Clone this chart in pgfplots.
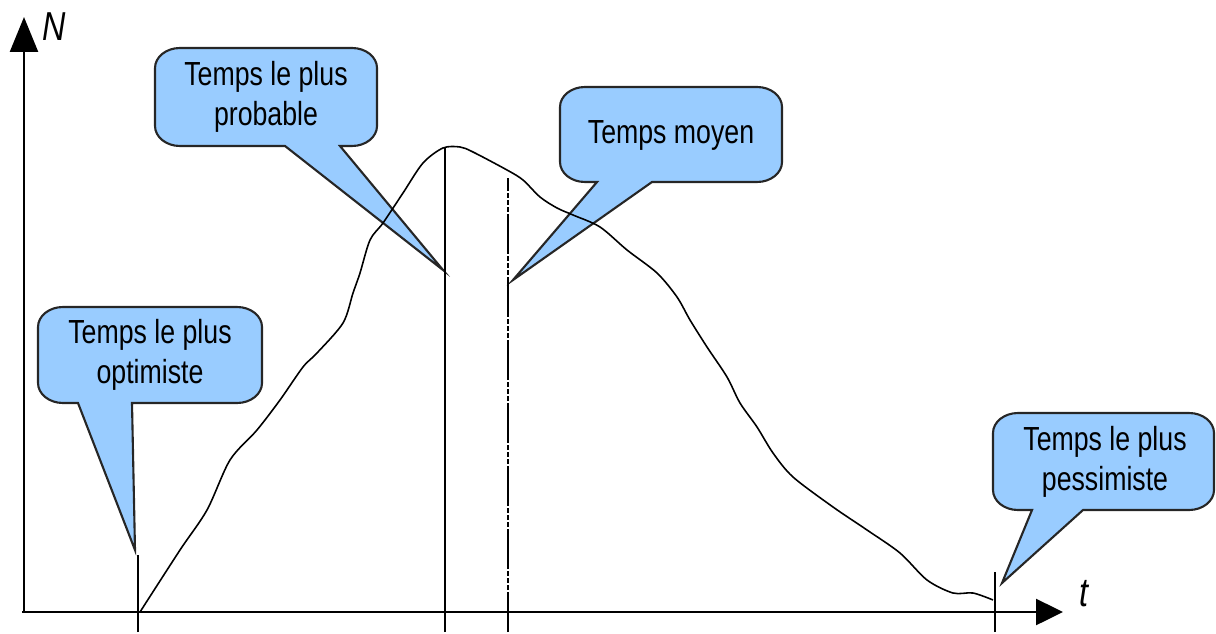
\documentclass[border=0pt]{standalone}
\usepackage{fontspec}
\newfontfamily\cf{Liberation Sans}[FakeStretch=0.8]
\usepackage{pgfplots}
\pgfplotsset{compat=1.18}
\usetikzlibrary{arrows.meta}
\definecolor{cfill}{RGB}{153,204,255}
\newcommand{\callout}[8]{%
 \draw[fill=cfill, draw=black!85, line width=0.6pt]
 (#6,#3) -- ({#2-25},#3) arc[start angle=-90,end angle=0,x radius=0.25cm,y radius=0.2cm]
 -- (#2,{#4-20}) arc[start angle=0,end angle=90,x radius=0.25cm,y radius=0.2cm]
 -- ({#1+25},#4) arc[start angle=90,end angle=180,x radius=0.25cm,y radius=0.2cm]
 -- (#1,{#3+20}) arc[start angle=180,end angle=270,x radius=0.25cm,y radius=0.2cm]
 -- (#5,#3) -- (#7,#8) -- cycle;}
\begin{document}
\begin{tikzpicture}
\begin{axis}[
  width=12.16cm, height=6.32cm, scale only axis,
  xmin=0, xmax=1216, ymin=0, ymax=632,
  axis lines=none, ticks=none, clip=false]
\path (0,0) rectangle (1216,632);
% callouts
\callout{155}{377}{486}{584}{285}{340}{443}{362}
\callout{560}{782}{450}{545}{597}{652}{513}{352}
\callout{38}{262}{229}{325}{78}{132}{135}{82}
\callout{993}{1214}{122}{219}{1032}{1083}{1002}{49}
\node[align=center, font=\cf\fontsize{9.5}{11.4}\selectfont] at (266,535) {Temps le plus\\probable};
\node[align=center, font=\cf\fontsize{9.5}{11.4}\selectfont] at (671,497) {Temps moyen};
\node[align=center, font=\cf\fontsize{9.5}{11.4}\selectfont] at (150,277) {Temps le plus\\optimiste};
\node[align=center, font=\cf\fontsize{9.5}{11.4}\selectfont] at (1105,170) {Temps le plus\\pessimiste};
% axes
\draw[line width=0.7pt, -{Triangle[length=0.35cm,width=0.28cm]}] (24,19) -- (24,615);
\draw[line width=0.7pt, -{Triangle[length=0.27cm,width=0.26cm]}] (22,20) -- (1063,20);
\node[font=\cf\itshape\fontsize{11.5}{13}\selectfont] at (54,605) {N};
\node[font=\cf\itshape\fontsize{11.5}{13}\selectfont] at (1084,38) {t};
% curve
\addplot[black, line width=0.45pt, smooth, tension=0.5] coordinates {
(140,20)(180,82)(207,122)(230,172)(257,202)(280,232)(303,265)(317,279)(343,309)
(353,339)(360,359)(370,392)(383,409)(403,439)(423,469)(443,484)(460,485)(473,480)
(507,462)(523,452)(540,435)(557,424)(573,417)(600,405)(627,382)(657,359)(677,335)
(690,312)(707,285)(727,255)(740,229)(757,205)(773,179)(793,155)(833,125)(867,102)
(900,79)(927,52)(953,39)(973,39)(993,32)};
% vertical markers
\addplot[black, line width=0.6pt] coordinates {(138,0)(138,77)};
\addplot[black, line width=0.6pt] coordinates {(445,0)(445,485)};
\addplot[black, line width=0.6pt, dash pattern=on 0.4cm off 0.02cm on 0.05cm off 0.02cm on 0.05cm off 0.02cm on 0.05cm off 0.02cm] coordinates {(508,0)(508,454)};
\addplot[black, line width=0.6pt] coordinates {(995,0)(995,60)};
\end{axis}
\end{tikzpicture}
\end{document}
